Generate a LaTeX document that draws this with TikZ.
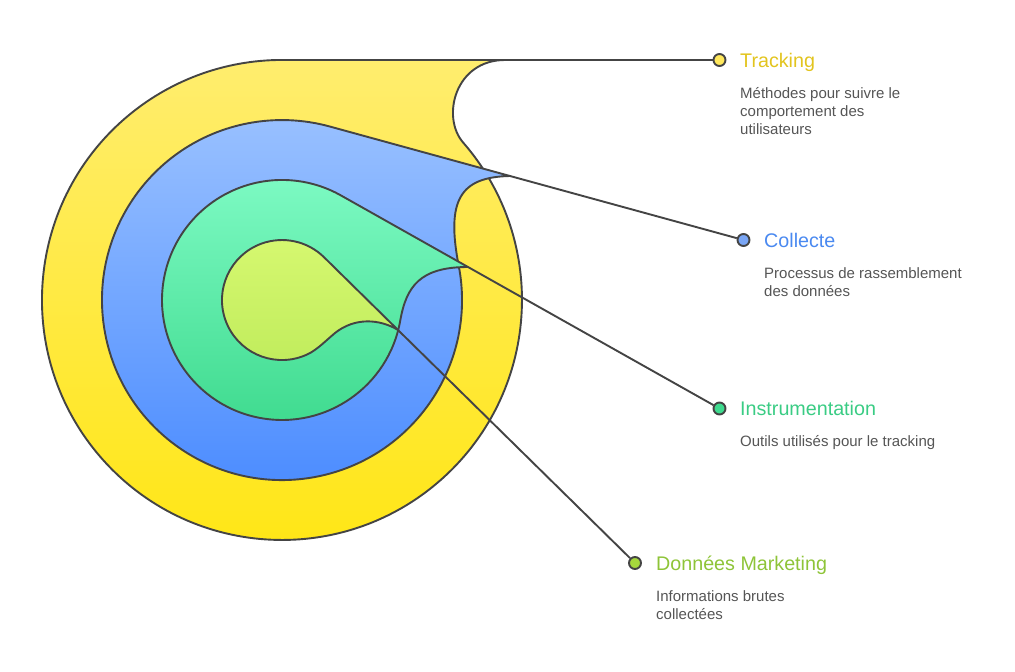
\documentclass[tikz,border=0pt]{standalone}
\usepackage{fontspec}
\setmainfont{Liberation Sans}
\definecolor{edge}{RGB}{68,68,68}
\definecolor{yelTop}{RGB}{255,237,110}
\definecolor{yelBot}{RGB}{255,230,18}
\definecolor{bluTop}{RGB}{152,192,255}
\definecolor{bluBot}{RGB}{74,139,255}
\definecolor{grnTop}{RGB}{125,250,195}
\definecolor{grnBot}{RGB}{62,218,142}
\definecolor{limTop}{RGB}{214,248,112}
\definecolor{limBot}{RGB}{192,236,92}
\definecolor{tYel}{RGB}{226,196,30}
\definecolor{tBlu}{RGB}{74,137,240}
\definecolor{tGrn}{RGB}{58,204,132}
\definecolor{tLim}{RGB}{142,196,56}
\definecolor{dYel}{RGB}{255,232,92}
\definecolor{dBlu}{RGB}{122,166,245}
\definecolor{dGrn}{RGB}{62,218,142}
\definecolor{dLim}{RGB}{166,216,60}
\definecolor{descc}{RGB}{85,85,85}
\tikzset{
  shapeline/.style={draw=edge, line width=1.9pt, line join=round},
  conn/.style={draw=edge, line width=1.9pt},
  dotnode/.style={circle, draw=edge, line width=1.9pt, minimum size=12pt, inner sep=0pt},
  titlenode/.style={anchor=base west, inner sep=0pt, font=\fontsize{19.7}{22}\selectfont},
  descnode/.style={anchor=base west, inner sep=0pt, text=descc, font=\fontsize{15}{18}\selectfont},
}
\begin{document}
\begin{tikzpicture}[x=1pt,y=-1pt]
\useasboundingbox (0,0) rectangle (1015,672);
% yellow
\path[shapeline, top color=yelTop, bottom color=yelBot]
  (463.1,142.5) arc[start angle=-41, end angle=270, radius=240]
  -- (505,60) .. controls (455,60) and (441,117) .. cycle;
\coordinate (ytip) at (505,60);
% blue
\path[shapeline, top color=bluTop, bottom color=bluBot]
  (458.7,265.7) arc[start angle=-11, end angle=285.4, radius=180]
  -- (510,176) .. controls (460,177) and (446,200) .. cycle;
\coordinate (btip) at (510,176);
% green
\path[shapeline, top color=grnTop, bottom color=grnBot]
  (400.2,320.8) arc[start angle=10, end angle=299.4, radius=120]
  -- (468,267) .. controls (420,267) and (406.3,286.3) .. cycle;
\coordinate (gtip) at (468,267);
% lime
\path[shapeline, top color=limTop, bottom color=limBot]
  (302.5,356.4) arc[start angle=70, end angle=314.5, radius=60]
  -- (398,330) .. controls (380,319) and (355,317) .. (335,333)
  .. controls (322,344) and (315,352) .. cycle;
\coordinate (ltip) at (398,330);
% dots
\node[dotnode, fill=dYel] (d1) at (719.5,60) {};
\node[dotnode, fill=dBlu] (d2) at (743.5,240) {};
\node[dotnode, fill=dGrn] (d3) at (719.5,408.5) {};
\node[dotnode, fill=dLim] (d4) at (635,563) {};
% connectors
\draw[conn] (ytip) -- (d1);
\draw[conn] (btip) -- (d2);
\draw[conn] (gtip) -- (d3);
\draw[conn] (ltip) -- (d4);
% texts
\node[titlenode, text=tYel] (t1) at (740,67) {Tracking};
\node[descnode] (s1) at (740,98.3) {\parbox[t]{220pt}{\raggedright Méthodes pour suivre le\\comportement des\\utilisateurs}};
\node[titlenode, text=tBlu] (t2) at (764,247.3) {Collecte};
\node[descnode] (s2) at (764,278.3) {\parbox[t]{220pt}{\raggedright Processus de rassemblement\\des données}};
\node[titlenode, text=tGrn] (t3) at (740,415.5) {Instrumentation};
\node[descnode] (s3) at (740,446.7) {\parbox[t]{220pt}{\raggedright Outils utilisés pour le tracking}};
\node[titlenode, text=tLim] (t4) at (656,570.5) {Données Marketing};
\node[descnode] (s4) at (656,601.7) {\parbox[t]{220pt}{\raggedright Informations brutes\\collectées}};
\end{tikzpicture}
\end{document}
